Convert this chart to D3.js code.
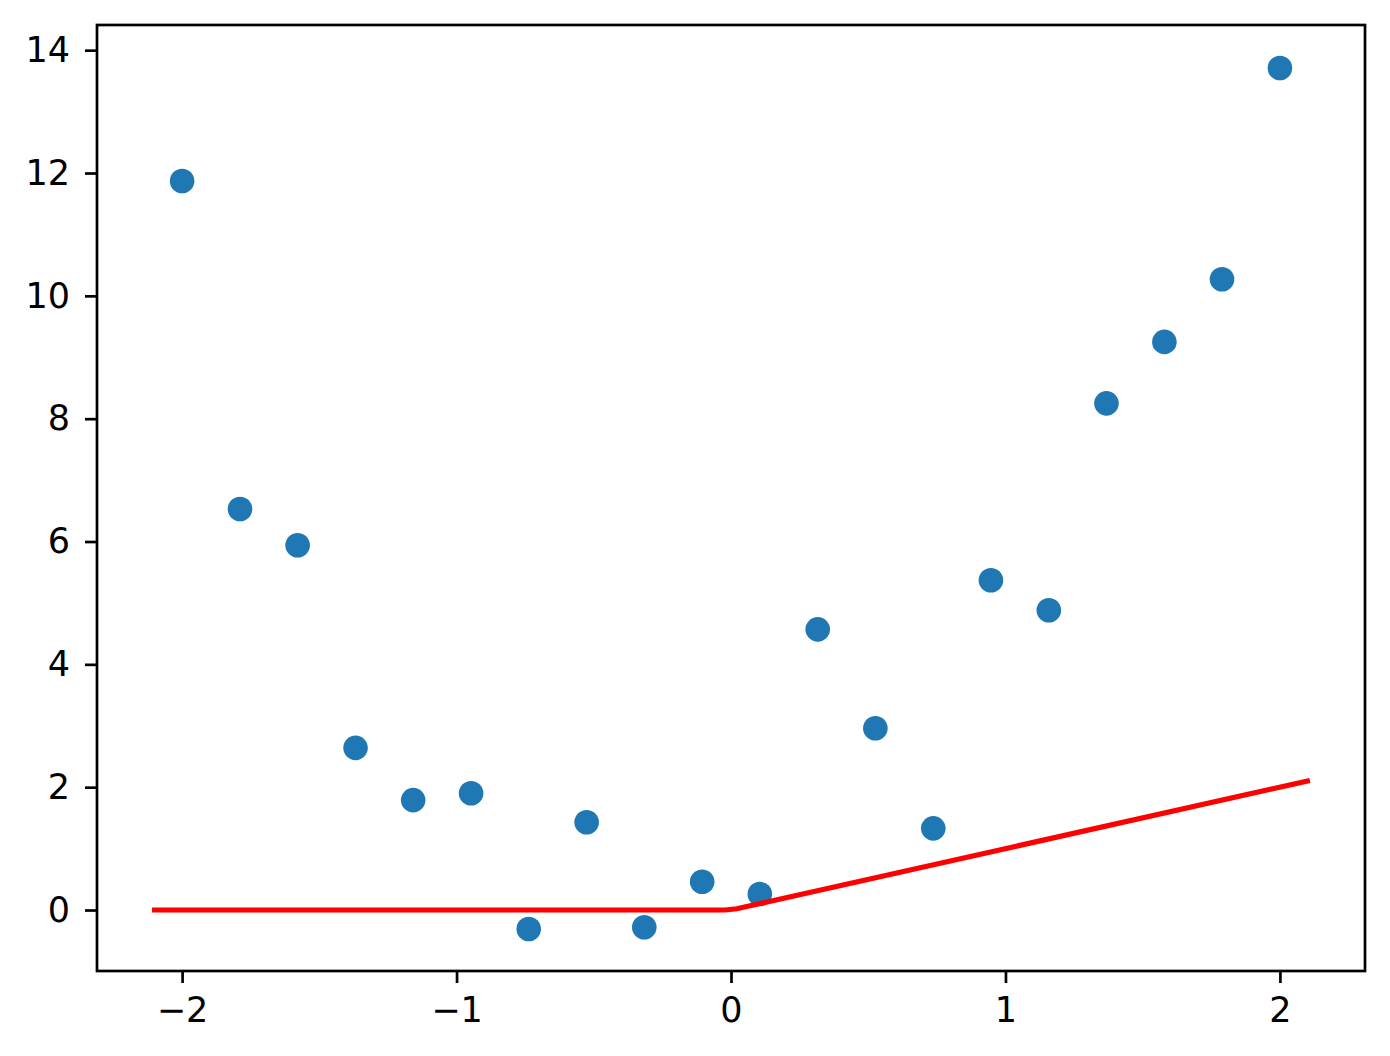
<!DOCTYPE html>
<html>
<head>
<meta charset="utf-8">
<script src="https://cdn.jsdelivr.net/npm/d3@7"></script>
<style>
  html, body { margin: 0; padding: 0; background: #fff; }
  svg { display: block; }
  .tick text { font-family: "DejaVu Sans", sans-serif; font-size: 35px; fill: #000; }
</style>
</head>
<body>
<div class="chart"></div>
<script>
// scatter samples
const xs = [-2, -1.789, -1.579, -1.368, -1.158, -0.947, -0.737, -0.526, -0.316, -0.105,
            0.105, 0.316, 0.526, 0.737, 0.947, 1.158, 1.368, 1.579, 1.789, 2]
const ys = [11.87, 6.53, 5.94, 2.64, 1.79, 1.90, -0.31, 1.43, -0.28, 0.46,
            0.26, 4.57, 2.96, 1.33, 5.37, 4.88, 8.25, 9.25, 10.27, 13.71]

// relu curve
const lineX = [-2.1, -0.021, 0.021, 2.1]
const lineY = [0, 0, 0.021, 2.1]

const xTicks = [-2, -1, 0, 1, 2]
const yTicks = [0, 2, 4, 6, 8, 10, 12, 14]

const width = 1390
const height = 1056
const margin = {top: 25, right: 25, bottom: 85, left: 97}

const xScale = d3.scaleLinear()
  .domain([-2.31, 2.31])
  .range([margin.left, width - margin.right])

const yScale = d3.scaleLinear()
  .domain([-0.993, 14.41])
  .range([height - margin.bottom, margin.top])

const svg = d3.select(".chart").append("svg")
  .attr("width", width)
  .attr("height", height)

const minus = d => d3.format("d")(d).replace("-", "\u2212")

const xAxis = svg.append("g")
  .attr("transform", `translate(0,${height - margin.bottom})`)
  .call(d3.axisBottom(xScale).tickValues(xTicks).tickFormat(minus)
    .tickSize(12).tickPadding(14))
xAxis.select(".domain").remove()

const yAxis = svg.append("g")
  .attr("transform", `translate(${margin.left},0)`)
  .call(d3.axisLeft(yScale).tickValues(yTicks).tickFormat(minus)
    .tickSize(12).tickPadding(15))
yAxis.select(".domain").remove()

svg.selectAll(".tick line").attr("stroke", "#000").attr("stroke-width", 2.7)

svg.append("g")
  .selectAll("circle")
  .data(xs)
  .join("circle")
    .attr("cx", d => xScale(d))
    .attr("cy", (d, i) => yScale(ys[i]))
    .attr("r", 12.3)
    .attr("fill", "#1f77b4")

const line = d3.line()
  .x(d => xScale(d))
  .y((d, i) => yScale(lineY[i]))

svg.append("path")
  .datum(lineX)
  .attr("d", line)
  .attr("fill", "none")
  .attr("stroke", "#ff0000")
  .attr("stroke-width", 5.2)
  .attr("stroke-linejoin", "round")
  .attr("stroke-linecap", "square")

// axes frame
svg.append("rect")
  .attr("x", margin.left)
  .attr("y", margin.top)
  .attr("width", width - margin.left - margin.right)
  .attr("height", height - margin.top - margin.bottom)
  .attr("fill", "none")
  .attr("stroke", "#000")
  .attr("stroke-width", 2.7)
</script>
</body>
</html>
